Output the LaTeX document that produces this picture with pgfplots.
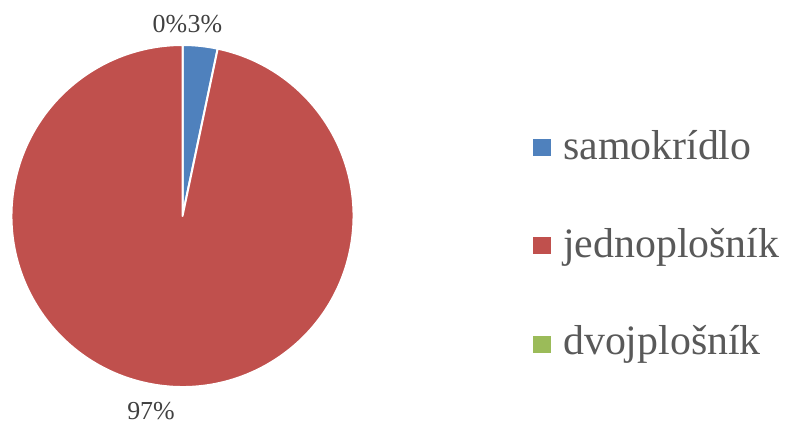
\documentclass[border=0pt]{standalone}
\usepackage{pgfplots}
\pgfplotsset{compat=1.18}
\usepackage{pgfplotstable}
\usepackage{fontspec}
\setmainfont{Liberation Serif}
\definecolor{cblue}{HTML}{4F81BD}
\definecolor{cred}{HTML}{C0504D}
\definecolor{cgreen}{HTML}{9BBB59}
\definecolor{labgray}{HTML}{404040}
\definecolor{leggray}{HTML}{595959}
\pgfplotstableread{
name value col
samokrídlo 3.3 cblue
jednoplošník 96.7 cred
dvojplošník 0.0 cgreen
}\piedata
\begin{document}
\begin{tikzpicture}
\begin{axis}[
  x=1bp, y=1bp, scale only axis,
  xmin=0, xmax=787, ymin=0, ymax=424,
  hide axis, clip=false,
]
\pgfplotstablegetrowsof{\piedata}
\pgfmathtruncatemacro{\nrows}{\pgfplotsretval-1}
\def\cum{0}
\pgfplotsforeachungrouped \i in {0,...,\nrows}{%
  \pgfplotstablegetelem{\i}{value}\of{\piedata}\let\val\pgfplotsretval
  \pgfplotstablegetelem{\i}{col}\of{\piedata}\let\col\pgfplotsretval
  \pgfmathsetmacro{\sa}{90-3.6*\cum}
  \pgfmathsetmacro{\ea}{90-3.6*(\cum+\val)}
  \pgfmathsetmacro{\cum}{\cum+\val}
  \edef\temp{\noexpand\ifdim \val pt>0pt
    \noexpand\filldraw[fill=\col, draw=white, line width=2bp, line join=round]
      (axis cs:182.5,208) -- ++(\sa:171bp) arc[start angle=\sa, end angle=\ea, radius=171bp] -- cycle;
  \noexpand\fi}
  \temp
}
% data labels
\node[anchor=base, text=labgray, font=\fontsize{26}{30}\selectfont] at (axis cs:170,391) {0\%};
\node[anchor=base, text=labgray, font=\fontsize{26}{30}\selectfont] at (axis cs:205,391) {3\%};
\node[anchor=base, text=labgray, font=\fontsize{26}{30}\selectfont] at (axis cs:151,5) {97\%};
% legend
\fill[cblue]  (axis cs:533,268) rectangle (axis cs:551,285);
\fill[cred]   (axis cs:533,170) rectangle (axis cs:551,187);
\fill[cgreen] (axis cs:533,71)  rectangle (axis cs:551,88);
\node[anchor=base west, inner sep=0pt, text=leggray, font=\fontsize{42}{48}\selectfont] at (axis cs:563,264.5) {samokrídlo};
\node[anchor=base west, inner sep=0pt, text=leggray, font=\fontsize{42}{48}\selectfont] at (axis cs:563,166.5) {jednoplošník};
\node[anchor=base west, inner sep=0pt, text=leggray, font=\fontsize{42}{48}\selectfont] at (axis cs:563,69.5) {dvojplošník};
\end{axis}
\pgfresetboundingbox
\useasboundingbox (current axis.south west) rectangle (current axis.north east);
\end{tikzpicture}
\end{document}
